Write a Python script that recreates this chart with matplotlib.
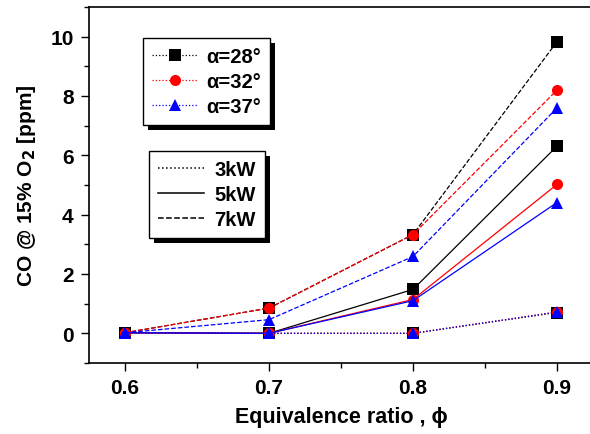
import matplotlib
matplotlib.use("Agg")
import matplotlib.pyplot as plt
from matplotlib.lines import Line2D
from matplotlib.patches import Rectangle
from matplotlib.transforms import IdentityTransform

plt.rcParams['font.family'] = ['Liberation Sans', 'DejaVu Sans']

phi = [0.6, 0.7, 0.8, 0.9]
angles = ['28', '32', '37']
colors = ['black', 'red', 'blue']
markers = ['s', 'o', '^']
powers = ['3kW', '5kW', '7kW']
styles = [':', '-', '--']

# CO [ppm] values: co[angle][power]
co = {
    '28': {'3kW': [0.02, 0.0, 0.0, 0.70],
           '5kW': [0.02, 0.0, 1.48, 6.31],
           '7kW': [0.02, 0.85, 3.33, 9.83]},
    '32': {'3kW': [0.02, 0.0, 0.0, 0.72],
           '5kW': [0.02, 0.0, 1.14, 5.02],
           '7kW': [0.02, 0.85, 3.33, 8.20]},
    '37': {'3kW': [0.02, 0.0, 0.0, 0.72],
           '5kW': [0.02, 0.0, 1.10, 4.41],
           '7kW': [0.02, 0.46, 2.59, 7.60]},
}

fig = plt.figure(figsize=(5.9, 4.35), dpi=100)
ax = fig.add_axes([89/590, 71/435, 504/590, 356/435])

for a, c, m in zip(angles, colors, markers):
    for p, ls in zip(powers, styles):
        ax.plot(phi, co[a][p], color=c, linestyle=ls, linewidth=0.9,
                marker=m, markersize=8, markeredgewidth=0)

ax.set_xlim(0.575, 0.925)
ax.set_ylim(-1, 11)
ax.set_xticks([0.6, 0.7, 0.8, 0.9])
ax.set_xticks([0.65, 0.75, 0.85], minor=True)
ax.set_yticks([0, 2, 4, 6, 8, 10])
ax.set_yticks([-1, 1, 3, 5, 7, 9, 11], minor=True)
ax.tick_params(which='major', direction='out', length=6, width=1,
               labelsize=15, pad=5)
ax.tick_params(which='minor', direction='out', length=3.5, width=1)
for lab in ax.get_xticklabels() + ax.get_yticklabels():
    lab.set_fontweight('bold')
ax.spines['right'].set_visible(False)
for s in ['left', 'bottom', 'top']:
    ax.spines[s].set_linewidth(1.2)

ax.set_xlabel('Equivalence ratio , \u03d5', fontsize=15.5, fontweight='bold',
              labelpad=6)
ax.set_ylabel('CO @ 15% O$_\\mathbf{2}$ [ppm]', fontsize=15,
              fontweight='bold', labelpad=9)

h1 = [Line2D([], [], color=c, linestyle=':', linewidth=0.9, marker=m,
             markersize=8, markeredgewidth=0) for c, m in zip(colors, markers)]
l1 = ['\u03b1=' + a + '\u00b0' for a in angles]
leg1 = ax.legend(h1, l1, loc='upper left', bbox_to_anchor=(0.107, 0.913),
                 prop={'weight': 'bold', 'size': 14.5},
                 frameon=True, fancybox=False, framealpha=1,
                 edgecolor='black',
                 handlelength=2.3, handletextpad=0.4, labelspacing=0.3,
                 borderpad=0.45, borderaxespad=0)
leg1.get_frame().set_linewidth(1)
ax.add_artist(leg1)

h2 = [Line2D([], [], color='black', linestyle=ls, linewidth=1.1)
      for ls in styles]
leg2 = ax.legend(h2, powers, loc='upper left', bbox_to_anchor=(0.119, 0.596),
                 prop={'weight': 'bold', 'size': 14.5},
                 frameon=True, fancybox=False, framealpha=1,
                 edgecolor='black',
                 handlelength=2.3, handletextpad=0.5, labelspacing=0.3,
                 borderpad=0.45, borderaxespad=0)
leg2.get_frame().set_linewidth(1)

# solid black drop shadows offset down-right like the original
fig.canvas.draw()
for lg in (leg1, leg2):
    bb = lg.get_frame().get_window_extent()
    ax.add_patch(Rectangle((bb.x0 + 5, bb.y0 - 5), bb.width, bb.height,
                           transform=IdentityTransform(), facecolor='black',
                           edgecolor='none', zorder=4.9, clip_on=False))

fig.savefig('out.png', dpi=100)
